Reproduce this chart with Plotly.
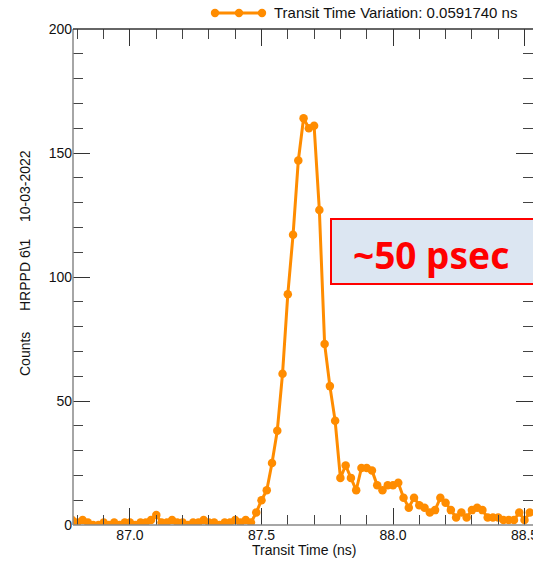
import plotly.graph_objects as go

# ---- data ----
bin_start = 86.78
bin_width = 0.02
counts = [
    2, 1, 2, 1, 0, 0, 1, 0, 1, 0,      # 86.78 - 86.96
    1, 1, 0, 1, 1, 2, 4, 1, 1, 2,      # 86.98 - 87.16
    1, 1, 0, 1, 1, 2, 1, 1, 0, 1,      # 87.18 - 87.36
    1, 2, 1, 2, 1, 5, 10, 14, 25, 38,  # 87.38 - 87.56
    61, 93, 117, 147, 164, 160, 161, 127, 73, 56,  # 87.58 - 87.76
    42, 19, 24, 19, 14, 23, 23, 22, 16, 14,        # 87.78 - 87.96
    16, 16, 17, 11, 7, 11, 8, 7, 5, 6,             # 87.98 - 88.16
    11, 9, 6, 3, 5, 3, 6, 7, 6, 3,                 # 88.18 - 88.36
    3, 3, 2, 2, 2, 5, 2, 5,                        # 88.38 - 88.52
]
times = [round(bin_start + i * bin_width, 2) for i in range(len(counts))]

x_range = [86.7833, 88.5323]
y_range = [0, 200]
x_ticks = [87.0, 87.5, 88.0, 88.5]
x_tick_text = ["87.0", "87.5", "88.0", "88.5"]
y_ticks = [0, 50, 100, 150, 200]

legend_label = "Transit Time Variation: 0.0591740 ns"
annot_text = "~50 psec"
x_title = "Transit Time (ns)"
y_label_parts = ["Counts", "HRPPD 6&#92;1", "10-03-2022"]

ORANGE = "#FF8C00"
FONT = "Liberation Sans, Arial, Helvetica, sans-serif"

# ---- geometry (pixels) ----
W, H = 533, 562
L, R, T, B = 73, 533, 29, 525


def px_x(p):
    return p / W


def px_y(p):
    return (H - p) / H


fig = go.Figure()
fig.add_trace(go.Scatter(
    x=times, y=counts, mode="lines+markers",
    line=dict(color=ORANGE, width=3),
    marker=dict(color=ORANGE, size=8.5),
    showlegend=False, hoverinfo="skip",
    xaxis="x", yaxis="y",
))

# x tick labels as a text trace in a strip below the plot (pixel offsets below the axis)
fig.add_trace(go.Scatter(
    x=x_ticks, y=[11] * len(x_ticks), text=x_tick_text, mode="text",
    textposition="middle center", cliponaxis=False,
    textfont=dict(family=FONT, size=14, color="#111"),
    showlegend=False, hoverinfo="skip",
    xaxis="x", yaxis="y2",
))

axis_common = dict(
    showgrid=False, zeroline=False, showline=False,
    mirror="ticks", ticks="inside", tickcolor="#333", tickwidth=1.2, ticklen=17,
    tickfont=dict(family=FONT, size=14, color="#111"),
)

fig.update_layout(
    xaxis=dict(
        domain=[px_x(L), 1], anchor="y",
        range=x_range, tickmode="array", tickvals=x_ticks, showticklabels=False,
        minor=dict(tickmode="linear", dtick=0.1, tick0=87.0, ticklen=10, ticks="inside",
                   tickcolor="#444", tickwidth=1, showgrid=False),
        automargin=False, **axis_common,
    ),
    yaxis=dict(
        domain=[px_y(B), px_y(T)], anchor="x",
        range=y_range, tickmode="array", tickvals=y_ticks,
        minor=dict(tickmode="linear", dtick=10, tick0=0, ticklen=10, ticks="inside",
                   tickcolor="#444", tickwidth=1, showgrid=False),
        automargin=False, **axis_common,
    ),
    yaxis2=dict(
        domain=[0, px_y(B)], anchor="x", range=[H - B, 0],
        visible=False, showgrid=False, zeroline=False, fixedrange=True,
    ),
)

shapes = []
annotations = []

# axis frame lines (left, bottom grey; top dark; right edge lies outside the view)
shapes.append(dict(type="line", xref="paper", yref="paper", x0=px_x(L), x1=px_x(L),
                   y0=px_y(B), y1=px_y(T), line=dict(color="#888", width=1.5), layer="above"))
shapes.append(dict(type="line", xref="paper", yref="paper", x0=px_x(L), x1=1.02,
                   y0=px_y(B), y1=px_y(B), line=dict(color="#888", width=1.5), layer="above"))
shapes.append(dict(type="line", xref="paper", yref="paper", x0=px_x(L), x1=1.02,
                   y0=px_y(T), y1=px_y(T), line=dict(color="#333", width=1.5), layer="above"))

# x axis title
annotations.append(dict(text=x_title, xref="paper", yref="paper",
                        x=px_x(304), y=px_y(550), xanchor="center", yanchor="middle",
                        showarrow=False, font=dict(family=FONT, size=14, color="#111")))

# manual legend: line with three markers
ly = px_y(13)
shapes.append(dict(type="line", xref="paper", yref="paper",
                   x0=px_x(212), x1=px_x(263), y0=ly, y1=ly,
                   line=dict(color=ORANGE, width=3)))
for cx in (215, 239, 262):
    shapes.append(dict(type="circle", xref="paper", yref="paper",
                       xsizemode="pixel", ysizemode="pixel",
                       xanchor=px_x(cx), yanchor=ly,
                       x0=-4.2, x1=4.2, y0=-4.2, y1=4.2,
                       fillcolor=ORANGE, line=dict(color=ORANGE, width=0)))
annotations.append(dict(text=legend_label, xref="paper", yref="paper",
                        x=px_x(272), y=ly, xanchor="left", yanchor="middle",
                        showarrow=False, font=dict(family=FONT, size=15, color="#111")))

# "~50 psec" box
shapes.append(dict(type="rect", xref="paper", yref="paper",
                   x0=px_x(331), x1=px_x(545), y0=px_y(284), y1=px_y(219),
                   fillcolor="#dce6f2", line=dict(color="#ff0000", width=2), layer="above"))
annotations.append(dict(text="<b>" + annot_text + "</b>", xref="paper", yref="paper",
                        x=px_x(431), y=px_y(254), xanchor="center", yanchor="middle",
                        showarrow=False,
                        font=dict(family="Noto Sans, DejaVu Sans, sans-serif", size=37, color="#ff0000")))

for txt, cy in zip(y_label_parts, (354, 275, 186)):
    annotations.append(dict(text=txt, xref="paper", yref="paper",
                            x=px_x(25), y=px_y(cy), xanchor="center", yanchor="middle",
                            textangle=-90, showarrow=False,
                            font=dict(family=FONT, size=14, color="#111")))

fig.update_layout(
    width=W, height=H, autosize=False,
    margin=dict(l=0, r=0, t=0, b=0, pad=0),
    paper_bgcolor="white", plot_bgcolor="white",
    shapes=shapes, annotations=annotations,
    showlegend=False, hovermode=False,
)

fig.write_html("out.html", config={"displayModeBar": False})
